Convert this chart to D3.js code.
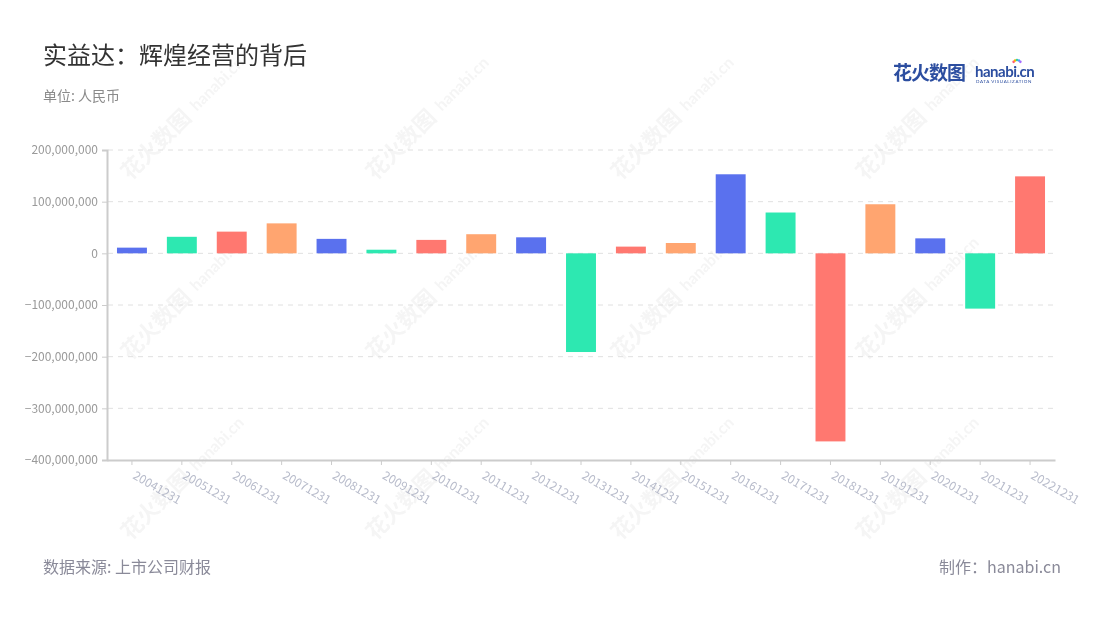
<!DOCTYPE html>
<html><head><meta charset="utf-8">
<script src="https://cdn.jsdelivr.net/npm/d3@7"></script>
<style>body{margin:0;background:#fff;font-family:"Noto Sans CJK SC","Noto Sans",sans-serif;}</style>
</head><body><svg id="c" width="1100" height="620"></svg>
<script>
const categories = ["20041231","20051231","20061231","20071231","20081231","20091231","20101231","20111231","20121231","20131231","20141231","20151231","20161231","20171231","20181231","20191231","20201231","20211231","20221231"];
const profits = [11000000,32000000,42000000,58000000,28000000,7000000,26000000,37000000,31000000,-191000000,13000000,20000000,153000000,79000000,-364000000,95000000,29000000,-107000000,149000000];
const yTicks = [200000000,100000000,0,-100000000,-200000000,-300000000,-400000000];
const palette = ["#5a71ee","#2de8b1","#ff7870","#ffa570"];

const svg = d3.select("#c");
const font = '"Noto Sans CJK SC","Noto Sans",sans-serif';

// watermarks
const wm = svg.append("g").attr("opacity",0.06);
[[160,140],[405,140],[650,140],[895,140],[160,320],[405,320],[650,320],[895,320],[160,500],[405,500],[650,500],[895,500]].forEach(([x,y])=>{
  const g = wm.append("g").attr("transform",`translate(${x},${y}) rotate(-45)`);
  g.append("text").attr("x",-50).attr("y",8).attr("font-size",22).attr("font-weight","bold").attr("fill","#555").attr("font-family",font).text("花火数图");
  g.append("text").attr("x",46).attr("y",6).attr("font-size",16).attr("font-weight","bold").attr("fill","#555").attr("font-family","Lato,sans-serif").text("hanabi.cn");
});

const x = d3.scaleBand().domain(categories).range([107,1055]).paddingInner(0.4).paddingOuter(0.2);
const y = d3.scaleLinear().domain([-400000000,200000000]).range([460,150]);

// grid
svg.append("g").selectAll("line").data(yTicks.filter(d=>d!==-400000000)).join("line")
  .attr("x1",108).attr("x2",1055).attr("y1",d=>y(d)).attr("y2",d=>y(d))
  .attr("stroke","#e0e0e0").attr("stroke-width",1).attr("stroke-dasharray","5,5");

// bars
svg.append("g").selectAll("rect").data(profits).join("rect")
  .attr("x",(d,i)=>x(categories[i]))
  .attr("width",x.bandwidth())
  .attr("y",d=>y(Math.max(0,d)))
  .attr("height",d=>Math.abs(y(d)-y(0)))
  .attr("fill",(d,i)=>palette[i%4]);

// y axis
const yAxis = svg.append("g").attr("transform","translate(107,0)")
  .call(d3.axisLeft(y).tickValues(yTicks).tickSize(5).tickPadding(4).tickFormat(d3.format(",")));
yAxis.select(".domain").attr("stroke","#cccccc").attr("stroke-width",2);
yAxis.selectAll(".tick line").attr("stroke","#cccccc");
yAxis.selectAll("text").attr("fill","#9a9a9a").attr("font-size",12).attr("font-family",font);

// x axis
const xAxis = svg.append("g").attr("transform","translate(0,460)")
  .call(d3.axisBottom(x).tickSize(5).tickSizeOuter(0));
xAxis.select(".domain").attr("stroke","#cccccc").attr("stroke-width",2);
xAxis.selectAll(".tick line").attr("stroke","#cccccc");
xAxis.selectAll("text").attr("fill","#b8bccb").attr("font-size",12).attr("font-family",font)
  .attr("text-anchor","start").attr("dy",null).attr("y",0)
  .attr("transform","translate(0,18) rotate(30)");

// titles
svg.append("text").attr("x",43).attr("y",64).attr("font-size",24).attr("fill","#333").attr("font-family",font).text("实益达：辉煌经营的背后");
svg.append("text").attr("x",43).attr("y",101).attr("font-size",14).attr("fill","#8a8a8a").attr("font-family",font).text("单位: 人民币");
svg.append("text").attr("x",43).attr("y",573).attr("font-size",16).attr("fill","#8a8a99").attr("font-family",font).text("数据来源: 上市公司财报");
svg.append("text").attr("x",1061).attr("y",573).attr("text-anchor","end").attr("font-size",16).attr("fill","#8a8a99").attr("font-family",font).text("制作：hanabi.cn");

// logo
svg.append("text").attr("x",893).attr("y",80).attr("font-size",19).attr("font-weight","bold").attr("fill","#2c4ea0").attr("font-family",font).attr("letter-spacing",-1).text("花火数图");
svg.append("text").attr("x",975).attr("y",77).attr("font-size",15).attr("font-weight","bold").attr("fill","#2c4ea0").attr("font-family","Lato,sans-serif").attr("letter-spacing",-0.5).text("hanabi.cn");
svg.append("text").attr("x",976).attr("y",83).attr("font-size",4.5).attr("fill","#2c4ea0").attr("font-family","Lato,sans-serif").attr("letter-spacing",0.6).text("DATA VISUALIZATION");
["#ff5a7a","#ffb000","#36d399","#4da3ff","#a66bff"].forEach((c,i)=>{
  const a = -Math.PI/2 + (i-2)*0.5;
  svg.append("circle").attr("cx",1017+Math.cos(a)*4).attr("cy",64+Math.sin(a)*4).attr("r",1.3).attr("fill",c);
});
</script></body></html>
